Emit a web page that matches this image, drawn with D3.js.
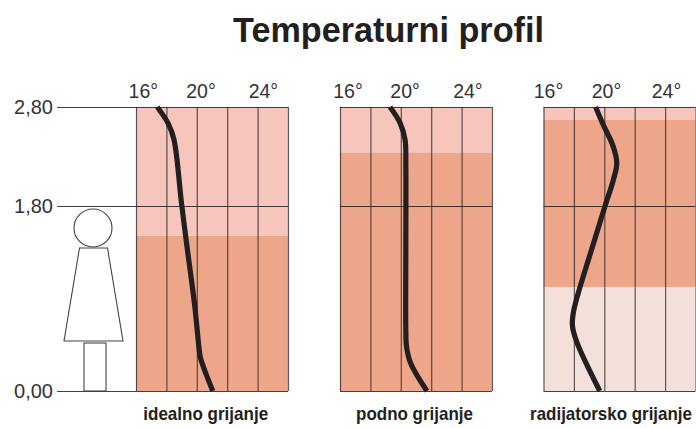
<!DOCTYPE html>
<html><head><meta charset="utf-8">
<script src="https://cdn.jsdelivr.net/npm/d3@7"></script>
<style>
html,body{margin:0;padding:0;background:#fff}
svg{display:block}
text{font-family:"Liberation Sans",Arial,sans-serif}
</style></head><body><svg id="c" width="696" height="428"></svg>
<script>
const title = "Temperaturni profil";
const heightTicks = [0, 1.8, 2.8];
const tempGrid = [16, 18, 20, 22, 24, 26];
const tempLabels = [16, 20, 24];
const panelNames = ["idealno grijanje", "podno grijanje", "radijatorsko grijanje"];
// height in m, temperature in deg C
const idealH = [2.8, 2.63, 2.47, 1.82, 1.4, 0.82, 0.44, 0.33, 0.2, 0];
const idealT = [17.4, 18.13, 18.5, 19.0, 19.36, 19.87, 20.13, 20.23, 20.52, 21.05];
const floorH = [2.8, 2.64, 2.47, 2.2, 1.4, 0.6, 0.43, 0.27, 0];
const floorT = [19.29, 19.95, 20.28, 20.33, 20.33, 20.33, 20.38, 20.65, 21.72];
const radH = [2.8, 2.62, 2.4, 2.23, 2.05, 1.8, 1.38, 0.79, 0.64, 0.48, 0];
const radT = [19.43, 19.93, 20.59, 20.82, 20.57, 20.05, 19.17, 18.0, 17.9, 18.18, 19.7];
// comfort-band limits (m)
const idealBands = [[2.8, 1.51, "light"], [1.51, 0, "mid"]];
const floorBands = [[2.8, 2.34, "light"], [2.34, 0, "mid"]];
const radBands = [[2.8, 2.67, "light"], [2.67, 1.01, "mid"], [1.01, 0, "pale"]];

const bandColor = {light: "#f6c6bd", mid: "#eea68b", pale: "#f3e0da"};
const panels = [
  {x0: 136, name: panelNames[0], h: idealH, t: idealT, bands: idealBands, labelX: 205.7, labelW: 125, dx: [7.3, 4.2, 5.8]},
  {x0: 340, name: panelNames[1], h: floorH, t: floorT, bands: floorBands, labelX: 414.5, labelW: 117, dx: [8, 4.3, 6.3]},
  {x0: 543.5, name: panelNames[2], h: radH, t: radT, bands: radBands, labelX: 611, labelW: 162, dx: [5, 2.2, 1.4]}
];
const W = 152;
const svg = d3.select("#c");
const y = d3.scaleLinear().domain([0, 1.8, 2.8]).range([391, 206, 107]);

svg.append("text").attr("x", 388.5).attr("y", 41.5).attr("text-anchor", "middle")
  .attr("font-size", 34.2).attr("font-weight", "bold").attr("fill", "#231f20").text(title);

panels.forEach((p, i) => {
  const x = d3.scaleLinear().domain([16, 26]).range([p.x0, p.x0 + W]);
  const g = svg.append("g");
  g.selectAll("rect").data(p.bands).join("rect")
    .attr("x", x(16)).attr("width", W)
    .attr("y", d => y(d[0])).attr("height", d => y(d[1]) - y(d[0]))
    .attr("fill", d => bandColor[d[2]]);
  // vertical grid
  const gx = g.append("g").attr("transform", `translate(0,391)`)
    .call(d3.axisTop(x).tickValues(tempGrid).tickSize(284).tickFormat(""));
  gx.select(".domain").remove();
  gx.selectAll("line").attr("stroke", "#231f20").attr("stroke-opacity", 0.72).attr("stroke-width", 1.2);
  // horizontal lines
  const gy = g.append("g").attr("transform", `translate(${x(16)},0)`)
    .call(d3.axisRight(y).tickValues(heightTicks).tickSize(W).tickFormat(""));
  gy.select(".domain").remove();
  gy.selectAll("line").attr("stroke", "#231f20").attr("stroke-opacity", 0.85).attr("stroke-width", 1.1);
  // temperature labels
  g.selectAll("text.t").data(tempLabels).join("text").attr("class", "t")
    .attr("x", (d, k) => x(d) + p.dx[k]).attr("y", 98).attr("text-anchor", "middle")
    .attr("font-size", 19.5).attr("fill", "#333").text(d => d + "°");
  // profile
  const pts = d3.zip(p.t, p.h);
  g.append("path").attr("fill", "none").attr("stroke", "#231f20").attr("stroke-width", 5.2)
    .attr("stroke-linejoin", "round")
    .attr("d", d3.line().x(d => x(d[0])).y(d => y(d[1])).curve(d3.curveCatmullRom.alpha(0.5))(pts));
  // name, condensed horizontally to the reference width
  const nameText = g.append("text").attr("text-anchor", "middle")
    .attr("font-size", 18).attr("font-weight", "bold").attr("fill", "#231f20").text(p.name);
  const natural = nameText.node().getComputedTextLength();
  nameText.attr("transform", `translate(${p.labelX},420) scale(${p.labelW / natural},1)`);
});

// left height axis
const ax = svg.append("g").attr("transform", "translate(136,0)")
  .call(d3.axisLeft(y).tickValues(heightTicks).tickSize(79).tickPadding(4)
    .tickFormat(d => d3.format(".2f")(d).replace(".", ",")));
ax.select(".domain").remove();
ax.selectAll("line").attr("stroke", "#231f20").attr("stroke-opacity", 0.85).attr("stroke-width", 1.1);
ax.selectAll("text").attr("font-size", 20).attr("fill", "#333").style("font-family", '"Liberation Sans",sans-serif');

// human figure
const fig = svg.append("g").attr("fill", "#fff").attr("stroke", "#444").attr("stroke-width", 1.1);
fig.append("circle").attr("cx", 93).attr("cy", 228).attr("r", 19);
fig.append("path").attr("d", "M79.5 248H107.5L123 341H64Z");
fig.append("rect").attr("x", 84).attr("y", 343).attr("width", 22).attr("height", 48);
</script></body></html>
